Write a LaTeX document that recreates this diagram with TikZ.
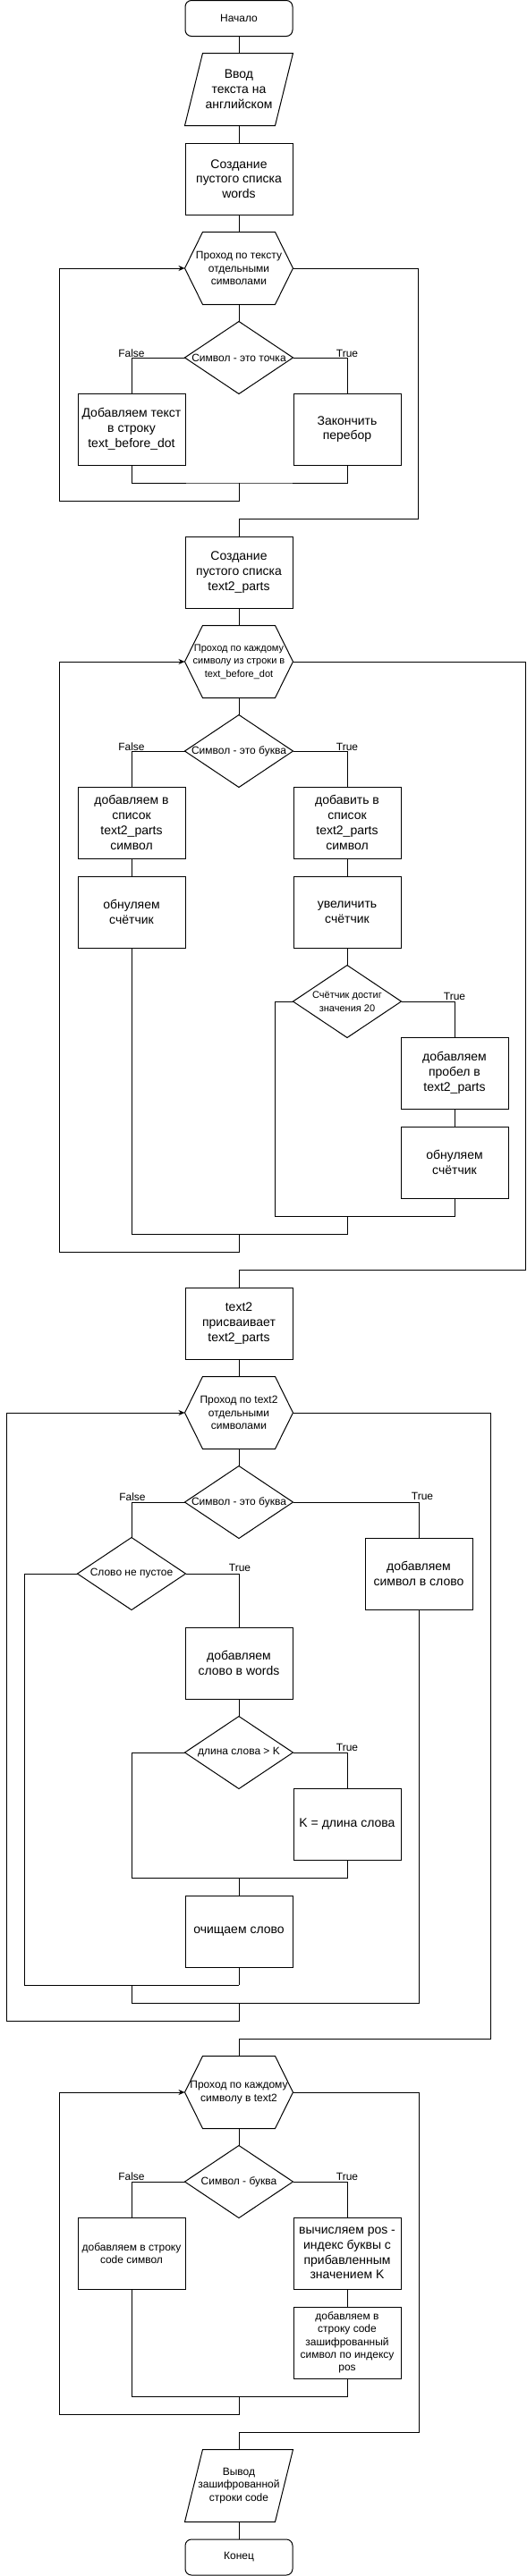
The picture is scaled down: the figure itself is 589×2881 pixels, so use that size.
\documentclass[tikz,border=0pt]{standalone}
\usepackage{fontspec}
\setmainfont{Liberation Sans}
\usetikzlibrary{arrows.meta,calc}
\newcommand\fsA{\fontsize{14pt}{16.8pt}\selectfont}
\newcommand\fsB{\fontsize{12pt}{14.4pt}\selectfont}
\newcommand\fsC{\fontsize{11pt}{14.5pt}\selectfont}
\begin{document}
\begin{tikzpicture}[x=1pt,y=-1pt,line width=1pt,
  every node/.style={inner sep=0pt,align=center},
  proc/.style={draw,rectangle,minimum width=120pt,minimum height=80pt,font=\fsA},
  term/.style={draw,rectangle,rounded corners=7pt,minimum width=120pt,minimum height=40pt,font=\fsB},
  hold/.style={rectangle,minimum width=120pt,minimum height=80pt,font=\fsB},
  lbl/.style={anchor=base,font=\fsB},
  arr/.style={-{Stealth[length=7pt,width=6pt]}}]
\fill[white] (0,0) rectangle (589,2881);
\useasboundingbox (0,0) rectangle (589,2881);
% nodes
\node[term] (start) at (267,20.5) {Начало};
\node[hold,font=\fsA] (in1) at (267,100) {Ввод\\текста на\\английском};
\node[proc] (words) at (267,200) {Создание\\пустого списка\\words};
\node[hold] (loop1) at (267,300) {Проход по тексту\\отдельными\\символами};
\node[hold] (d1) at (267,400) {Символ - это точка};
\node[proc] (b1l) at (147,480) {Добавляем текст\\в строку\\text\_before\_dot};
\node[proc] (b1r) at (388,480) {Закончить\\перебор};
\node[proc] (create2) at (267,640) {Создание\\пустого списка\\text2\_parts};
\node[hold,font=\fsC] (loop2) at (267,740) {Проход по каждому\\символу из строки в\\text\_before\_dot};
\node[hold] (d2) at (267,840) {Символ - это буква};
\node[proc] (b2l) at (147,920) {добавляем в\\список\\text2\_parts\\символ};
\node[proc] (b2r) at (388,920) {добавить в\\список\\text2\_parts\\символ};
\node[proc] (b3l) at (147,1020) {обнуляем\\счётчик};
\node[proc] (b3r) at (388,1020) {увеличить\\счётчик};
\node[hold,font=\fsC] (d3) at (388,1120) {Счётчик достиг\\значения 20};
\node[proc] (b4) at (508,1200) {добавляем\\пробел в\\text2\_parts};
\node[proc] (b5) at (508,1300) {обнуляем\\счётчик};
\node[proc] (assign) at (267,1480) {text2\\присваивает\\text2\_parts};
\node[hold] (loop3) at (267,1580) {Проход по text2\\отдельными\\символами};
\node[hold] (d4) at (267,1680) {Символ - это буква};
\node[hold] (d5) at (147,1760) {Слово не пустое};
\node[proc] (addch) at (468,1760) {добавляем\\символ в слово};
\node[proc] (addw) at (267,1860) {добавляем\\слово в words};
\node[hold] (d6) at (267,1960) {длина слова > K};
\node[proc] (setk) at (388,2040) {K = длина слова};
\node[proc] (clr) at (267,2160) {очищаем слово};
\node[hold] (loop4) at (267,2340) {Проход по каждому\\символу в text2};
\node[hold] (d7) at (267,2440) {Символ - буква};
\node[proc,font=\fsB] (c1) at (147,2520) {добавляем в строку\\code символ};
\node[proc] (c2) at (388,2520) {вычисляем pos -\\индекс буквы с\\прибавленным\\значением K};
\node[proc,font=\fsB] (c3) at (388,2620) {добавляем в\\строку code\\зашифрованный\\символ по индексу\\pos};
\node[hold] (out) at (267,2780) {Вывод\\зашифрованной\\строки code};
\node[term] (end) at (267,2860) {Конец};
% shapes
\foreach \n in {loop1,loop2,loop3,loop4}
  \draw ([xshift=20pt]\n.north west) -- ([xshift=-20pt]\n.north east) -- (\n.east)
    -- ([xshift=-20pt]\n.south east) -- ([xshift=20pt]\n.south west) -- (\n.west) -- cycle;
\foreach \n in {d1,d2,d3,d4,d5,d6,d7}
  \draw (\n.north) -- (\n.east) -- (\n.south) -- (\n.west) -- cycle;
\foreach \n in {in1,out}
  \draw ([xshift=20pt]\n.north west) -- (\n.north east) -- ([xshift=-20pt]\n.south east) -- (\n.south west) -- cycle;
% coordinates
\coordinate (m1) at (267,540);
\coordinate (l1) at (66.5,560);
\coordinate (r1) at (467,580);
\coordinate (p3) at (307.5,1360);
\coordinate (m3) at (388,1360);
\coordinate (m4) at (267,1380);
\coordinate (l2) at (66.5,1400);
\coordinate (r2) at (587.5,1420);
\coordinate (p5) at (27.5,2220);
\coordinate (m5) at (267,2220);
\coordinate (m6) at (267,2100);
\coordinate (p6) at (147,2100);
\coordinate (m7) at (147,2220);
\coordinate (m8) at (267,2240);
\coordinate (l3) at (7.5,2260);
\coordinate (r3) at (548,2280);
\coordinate (m9) at (267,2680);
\coordinate (l4) at (66.5,2700);
\coordinate (r4) at (468,2720);
% connectors, part 1
\draw (start) -- (in1);
\draw (in1) -- (words);
\draw (words) -- (loop1);
\draw (loop1) -- (d1);
\draw (d1.west) -| (b1l.north);
\draw (d1.east) -| (b1r.north);
\draw (b1l.south) |- (m1) -| (b1r.south);
\draw[arr] (m1) |- (l1) |- (loop1.west);
\draw (loop1.east) -| (r1) -| (create2.north);
\node[lbl] (f1) at (147,399) {False};
\node[lbl] (t1) at (388,399) {True};
% part 2
\draw (create2) -- (loop2);
\draw (loop2) -- (d2);
\draw (d2.west) -| (b2l.north);
\draw (d2.east) -| (b2r.north);
\node[lbl] (f2) at (147,839) {False};
\node[lbl] (t2) at (388,839) {True};
\draw (b2l) -- (b3l);
\draw (b2r) -- (b3r);
\draw (b3r) -- (d3);
\draw (d3.east) -| (b4.north);
\node[lbl] (t3) at (508,1118) {True};
\draw (b4) -- (b5);
\draw (d3.west) -| (p3) -- (m3);
\draw (b5.south) |- (m3);
\draw (b3l.south) |- (m4);
\draw (m3) |- (m4);
\draw[arr] (m4) |- (l2) |- (loop2.west);
\draw (loop2.east) -| (r2) -| (assign.north);
% part 3
\draw (assign) -- (loop3);
\draw (loop3) -- (d4);
\draw (d4.west) -| (d5.north);
\draw (d4.east) -| (addch.north);
\node[lbl] (f4) at (148,1678) {False};
\node[lbl] (t4) at (472,1677) {True};
\draw (d5.east) -| (addw.north);
\node[lbl] (t5) at (268,1757) {True};
\draw (addw) -- (d6);
\draw (d6.east) -| (setk.north);
\node[lbl] (t6) at (388,1958) {True};
\draw (d6.west) -| (p6) -- (m6);
\draw (setk.south) |- (m6);
\draw (m6) -- (clr);
\draw (d5.west) -| (p5) -- (m5);
\draw (clr.south) -- (m5);
\draw (m7) |- (m8);
\draw (addch.south) |- (m8);
\draw[arr] (m8) |- (l3) |- (loop3.west);
\draw (loop3.east) -| (r3) -| (loop4.north);
% part 4
\draw (loop4) -- (d7);
\draw (d7.west) -| (c1.north);
\draw (d7.east) -| (c2.north);
\node[lbl] (f7) at (147,2438) {False};
\node[lbl] (t7) at (388,2438) {True};
\draw (c2) -- (c3);
\draw (c1.south) |- (m9);
\draw (c3.south) |- (m9);
\draw[arr] (m9) |- (l4) |- (loop4.west);
\draw (loop4.east) -| (r4) -| (out.north);
\draw (out) -- (end);
\end{tikzpicture}
\end{document}
